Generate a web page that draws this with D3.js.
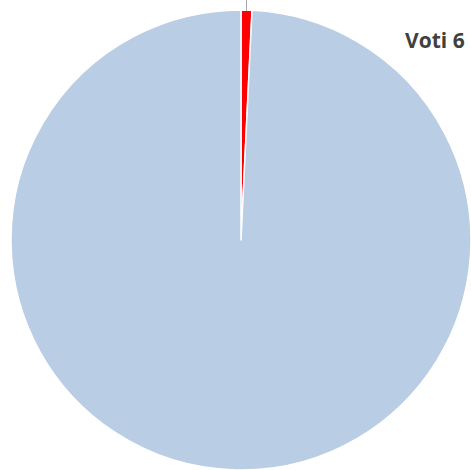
<!DOCTYPE html>
<html>
<head>
<meta charset="utf-8">
<script src="https://cdn.jsdelivr.net/npm/d3@7"></script>
<style>
	body { margin: 0; background: #fff; overflow: hidden; }
	svg { display: block; }
</style>
</head>
<body>
<div id="graphic"></div>
<script>
// slice data (clockwise from 12 o'clock)
const categories = ['Voti', 'Altri'];
const values = [6, 780];
const colours = ['#ff0000', '#b9cde5'];
const labelText = 'Voti 6';

const width = 471, height = 470;
const cx = 241, cy = 240, radius = 230;

const svg = d3.select('#graphic')
	.append('svg')
	.attr('width', width)
	.attr('height', height);

const pie = d3.pie().sort(null).value(d => d.value);
const arc = d3.arc().innerRadius(0).outerRadius(radius);

const data = categories.map((c, i) => ({ name: c, value: values[i], colour: colours[i] }));

const g = svg.append('g').attr('transform', `translate(${cx},${cy})`);

g.selectAll('path')
	.data(pie(data))
	.join('path')
	.attr('d', arc)
	.attr('fill', d => d.data.colour)
	.attr('stroke', '#fff')
	.attr('stroke-width', 1.5)
	.attr('stroke-linejoin', 'round');

// leader line from the small slice going off the top
const small = pie(data)[0];
const mid = (small.startAngle + small.endAngle) / 2;
const px = Math.sin(mid) * radius;
g.append('line')
	.attr('x1', px).attr('x2', px)
	.attr('y1', -radius + 1).attr('y2', -cy)
	.attr('stroke', '#a6a6a6')
	.attr('stroke-width', 1);

svg.append('text')
	.attr('x', 405)
	.attr('y', 48)
	.attr('font-family', 'Open Sans, sans-serif')
	.attr('font-weight', 'bold')
	.attr('font-size', 21)
	.attr('fill', '#404040')
	.text(labelText);
</script>
</body>
</html>
